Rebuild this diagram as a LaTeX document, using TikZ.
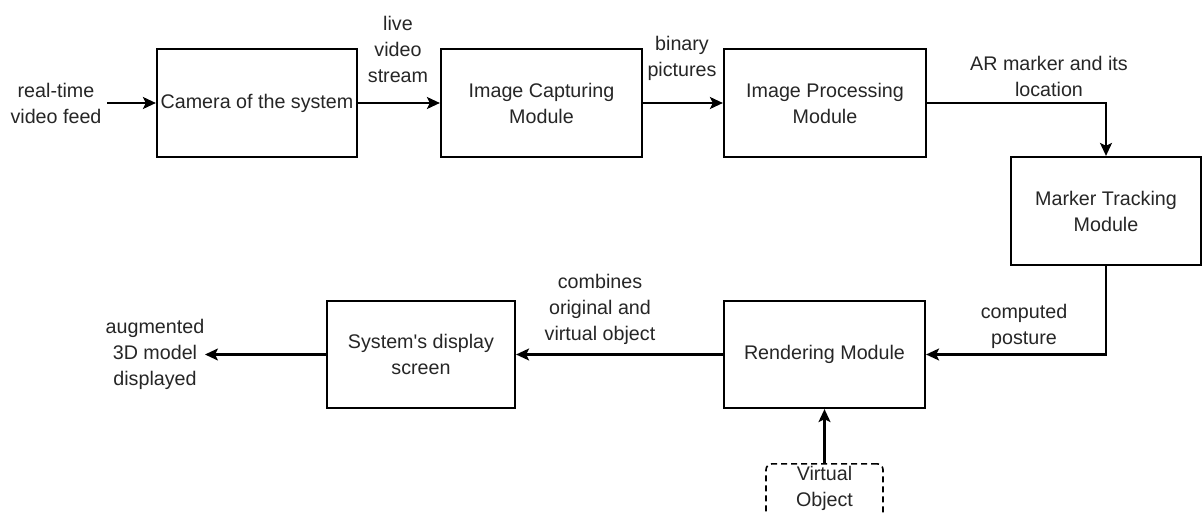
\documentclass[tikz,border=0pt]{standalone}
\usepackage{fontspec}
\setmainfont{Liberation Sans}
\newfontfamily\plainsans{Liberation Sans}
\usetikzlibrary{arrows.meta}
\begin{document}
\begin{tikzpicture}[x=1pt,y=-1pt,
  every node/.style={font=\plainsans\fontsize{19.7}{26}\selectfont, text=black!85},
  blk/.style={draw=black, line width=2.2pt, minimum height=108pt, align=center, inner sep=2pt},
  lbl/.style={align=center, inner sep=0pt},
  arr/.style={line width=2.2pt, -{Stealth[length=13pt,width=12pt,inset=3pt]}}]
\clip (0,0) rectangle (1203,513);
\fill[white] (0,0) rectangle (1203,513);
\node[blk, minimum width=200pt] (cam) at (257,103) {Camera of the system};
\node[blk, minimum width=201pt] (cap) at (541.5,103) {Image Capturing\\Module};
\node[blk, minimum width=202pt] (proc) at (825,103) {Image Processing\\Module};
\node[blk, minimum width=190pt] (mark) at (1106,211) {Marker Tracking\\Module};
\node[blk, minimum width=201pt, minimum height=107pt] (rend) at (824.5,354.5) {Rendering Module};
\node[blk, minimum width=188pt, minimum height=107pt] (disp) at (421,354.5) {System's display\\screen};
\node[draw=black, line width=1.6pt, dash pattern=on 6pt off 4pt, rounded corners=6pt,
      minimum width=117pt, minimum height=64pt, align=center, anchor=north, inner sep=2pt] (virt) at (824.5,463) {Virtual\\Object\\[4pt]};
\coordinate (in) at (107,103);
\coordinate (out) at (205,354.5);
\draw[arr] (in) -- (cam.west);
\draw[arr] (cam.east) -- (cap.west);
\draw[arr] (cap.east) -- (proc.west);
\draw[arr] (proc.east) -| (mark.north);
\draw[arr] (mark.south) |- (rend.east);
\draw[arr] (rend.west) -- (disp.east);
\draw[arr] (disp.west) -- (out);
\draw[arr] (virt.north) -- (rend.south);
\node[lbl] (l1) at (56,103.5) {real-time\\video feed};
\node[lbl] (l2) at (398,49) {live\\video\\stream};
\node[lbl] (l3) at (682,58) {binary\\pictures};
\node[lbl] (l4) at (1049,76) {AR marker and its\\location};
\node[lbl] (l5) at (1024,326) {computed\\posture};
\node[lbl] (l6) at (600,309) {combines\\original and\\virtual object};
\node[lbl] (l7) at (155,354) {augmented\\3D model\\displayed};
\end{tikzpicture}
\end{document}
